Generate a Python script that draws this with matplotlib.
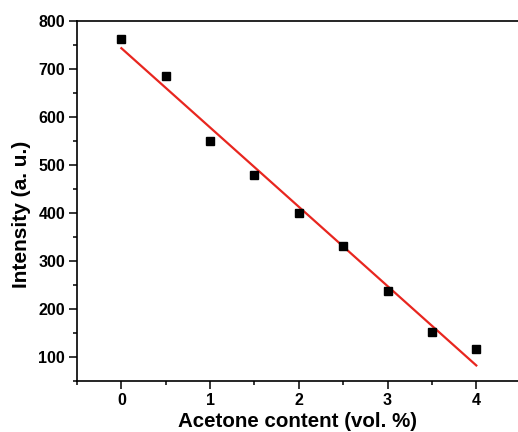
import numpy as np
import matplotlib
matplotlib.use("Agg")
import matplotlib.pyplot as plt
from matplotlib.ticker import MultipleLocator

acetone = [0, 0.5, 1, 1.5, 2, 2.5, 3, 3.5, 4]
intensity = [763, 685, 551, 479, 400, 331, 238, 152, 117]

plt.rcParams['font.family'] = ['Liberation Sans', 'DejaVu Sans']
plt.rcParams['font.weight'] = 'bold'

fig = plt.figure(figsize=(5.18, 4.32), dpi=100)
ax = fig.add_axes([77/518, 51/432, 1 - 77/518, (381-21)/432])

slope, intercept = np.polyfit(acetone, intensity, 1)
xfit = np.array([acetone[0], acetone[-1]])
ax.plot(xfit, slope*xfit + intercept, color='#e8261f', lw=1.6, zorder=2)
ax.plot(acetone, intensity, 's', color='black', ms=6, zorder=3)

ax.set_xlim(-0.5, 4.47)
ax.set_ylim(50, 800)
ax.xaxis.set_major_locator(MultipleLocator(1))
ax.xaxis.set_minor_locator(MultipleLocator(0.5))
ax.yaxis.set_major_locator(MultipleLocator(100))
ax.yaxis.set_minor_locator(MultipleLocator(50))
ax.set_yticks([100, 200, 300, 400, 500, 600, 700, 800])

ax.spines['right'].set_visible(False)
for s in ['left', 'bottom', 'top']:
    ax.spines[s].set_linewidth(1.2)
ax.tick_params(which='major', direction='out', length=5.5, width=1.1, labelsize=11.5, pad=3)
ax.tick_params(which='minor', direction='out', length=3, width=1.1)
ax.tick_params(top=False, which='both')
for lab in ax.get_xticklabels() + ax.get_yticklabels():
    lab.set_fontweight('bold')

ax.set_xlabel('Acetone content (vol. %)', fontsize=14.8, fontweight='bold', labelpad=3)
ax.set_ylabel('Intensity (a. u.)', fontsize=15, fontweight='bold')
ax.yaxis.set_label_coords(-0.104, 0.464)

fig.savefig('out.png', dpi=100)
